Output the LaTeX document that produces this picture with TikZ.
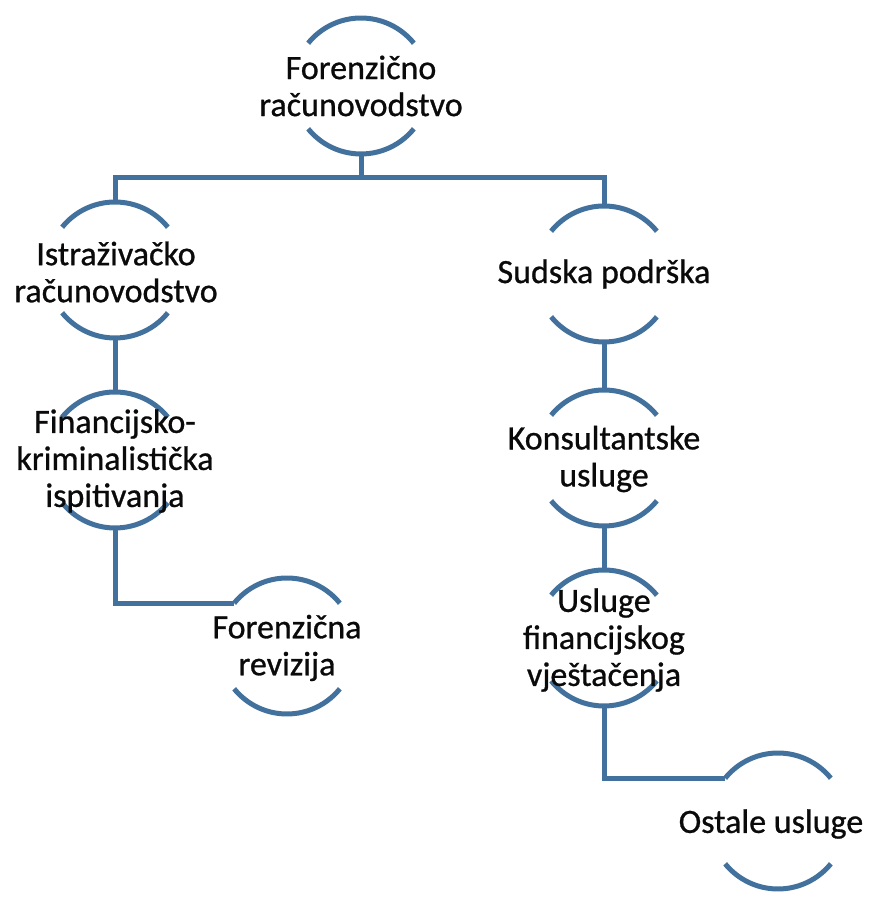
\documentclass[tikz,border=0pt]{standalone}
\usepackage{fontspec}
\setmainfont{Carlito}
\newfontfamily\lblfont[FakeBold=0.8]{Carlito}
\definecolor{ringblue}{RGB}{65,113,156}
\definecolor{txtcol}{RGB}{10,10,10}
\tikzset{
  ring/.style={circle,minimum size=136pt,inner sep=0pt,outer sep=0pt},
  lbl/.style={align=center,inner sep=0pt,text=txtcol,font=\lblfont\fontsize{34}{37}\selectfont},
  arcline/.style={draw=ringblue,line width=5pt,line cap=butt},
  conn/.style={draw=ringblue,line width=5pt,line join=miter}
}
\newcommand\ringnode[4]{%
  \node[ring] (#1) at (#2) {};
  \draw[arcline] (#1.39) arc[start angle=39,end angle=141,radius=68];
  \draw[arcline] (#1.-39) arc[start angle=-39,end angle=-141,radius=68];
  \node[lbl] (#1-t) at (#3) {#4};
}
\begin{document}
\begin{tikzpicture}[x=1pt,y=1pt]
\useasboundingbox (0,0) rectangle (873,902);
\coordinate (bar) at (0,724);
% nodes
\ringnode{n1}{361,816}{361,816}{Forenzično\\računovodstvo}
\ringnode{n2}{115,632}{116,630}{Istraživačko\\računovodstvo}
\ringnode{n3}{604,628}{604,628}{Sudska podrška}
\ringnode{n4}{115,442}{115,441}{Financijsko-\\kriminalistička\\ispitivanja}
\ringnode{n5}{604,444}{604,443}{Konsultantske\\usluge}
\ringnode{n6}{604,264}{604,262}{Usluge\\financijskog\\vještačenja}
\ringnode{n7}{287,256}{287,254}{Forenzična\\revizija}
\ringnode{n8}{778,81}{771,78}{Ostale usluge}
% connectors
\draw[conn] (n1.south) -- (n1.south |- bar);
\draw[conn] (n2.north) -- (n2.north |- bar) -- (n3.north |- bar) -- (n3.north);
\draw[conn] (n2.south) -- (n4.north);
\draw[conn] (n4.south) |- (n7.141);
\draw[conn] (n3.south) -- (n5.north);
\draw[conn] (n5.south) -- (n6.north);
\draw[conn] (n6.south) |- (n8.141);
\end{tikzpicture}
\end{document}
